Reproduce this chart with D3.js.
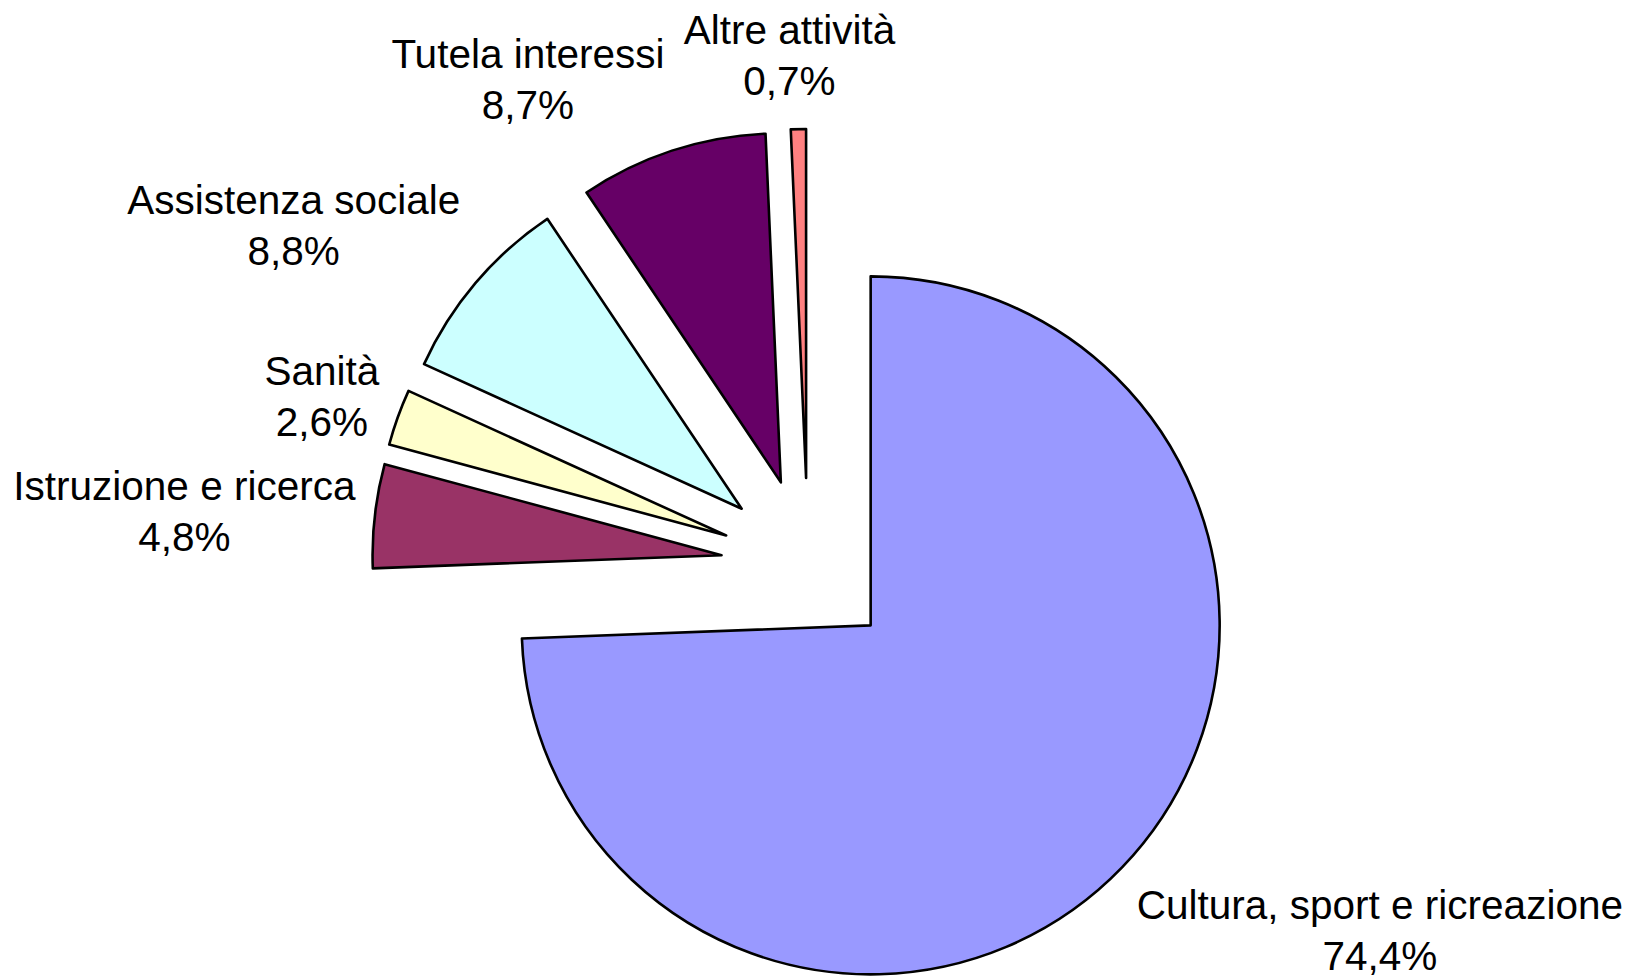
<!DOCTYPE html>
<html>
<head>
<meta charset="utf-8">
<script src="https://cdn.jsdelivr.net/npm/d3@7/dist/d3.min.js"></script>
<style>
  html, body { margin: 0; padding: 0; background: #ffffff; }
  svg { display: block; }
  text { font-family: "Liberation Sans", Arial, sans-serif; }
</style>
</head>
<body>
<svg id="chart" width="1628" height="978"></svg>
<script>
// ---- data ----
const categories = [
  "Cultura, sport e ricreazione",
  "Istruzione e ricerca",
  "Sanità",
  "Assistenza sociale",
  "Tutela interessi",
  "Altre attività"
];
const values = [74.4, 4.8, 2.6, 8.8, 8.7, 0.7];
const colors = ["#9999FF", "#993366", "#FFFFCC", "#CCFFFF", "#660066", "#FF8080"];

// ---- layout ----
const W = 1628, H = 978;
const cx = 808, cy = 565;     // pie centre
const radius = 349;
const explode = 87;           // offset of every slice along its bisector
const labelGap = 19;
const fontSize = 40.5;
const lineH = 51;

const svg = d3.select("#chart");
const data = categories.map((c, i) => ({ name: c, value: values[i], color: colors[i] }));

const pie = d3.pie().sort(null).value(d => d.value).startAngle(0).endAngle(2 * Math.PI);
const arc = d3.arc().innerRadius(0).outerRadius(radius);
const arcs = pie(data);

const fmt = v => d3.format(".1f")(v).replace(".", ",") + "%";

const g = svg.append("g").attr("transform", `translate(${cx},${cy})`);

const slices = g.selectAll("g.slice").data(arcs).join("g")
  .attr("class", "slice")
  .attr("transform", d => {
    const m = (d.startAngle + d.endAngle) / 2;
    return `translate(${Math.sin(m) * explode},${-Math.cos(m) * explode})`;
  });

slices.append("path")
  .attr("d", arc)
  .attr("fill", d => d.data.color)
  .attr("stroke", "#000")
  .attr("stroke-width", 2.6)
  .attr("stroke-linejoin", "round");

// labels: nearest side of the label box is placed just outside the exploded slice
const clamp = v => Math.max(-1, Math.min(1, v));
const shape = a => Math.sign(a) * Math.min(1, Math.pow(Math.abs(a) / 0.68, 1.7));
arcs.forEach(d => {
  const m = (d.startAngle + d.endAngle) / 2;
  const dx = Math.sin(m), dy = -Math.cos(m);
  const R = explode + radius + labelGap + 6 * Math.pow(dy, 4);
  const px = dx * R, py = dy * R;

  const t = g.append("text")
    .attr("text-anchor", "middle")
    .attr("font-size", fontSize)
    .attr("fill", "#000");
  t.append("tspan").attr("x", 0).attr("y", 0).text(d.data.name);
  t.append("tspan").attr("x", 0).attr("y", lineH).text(fmt(d.data.value));

  const bb = t.node().getBBox();
  const u = 0.5 - clamp(dx * 3.5) / 2;   // horizontal anchor fraction
  const v = 0.5 - shape(dy) / 2;         // vertical anchor fraction
  const left = px - u * bb.width;
  const top = py - v * bb.height;
  t.attr("transform", `translate(${left - bb.x},${top - bb.y})`);
});
</script>
</body>
</html>
